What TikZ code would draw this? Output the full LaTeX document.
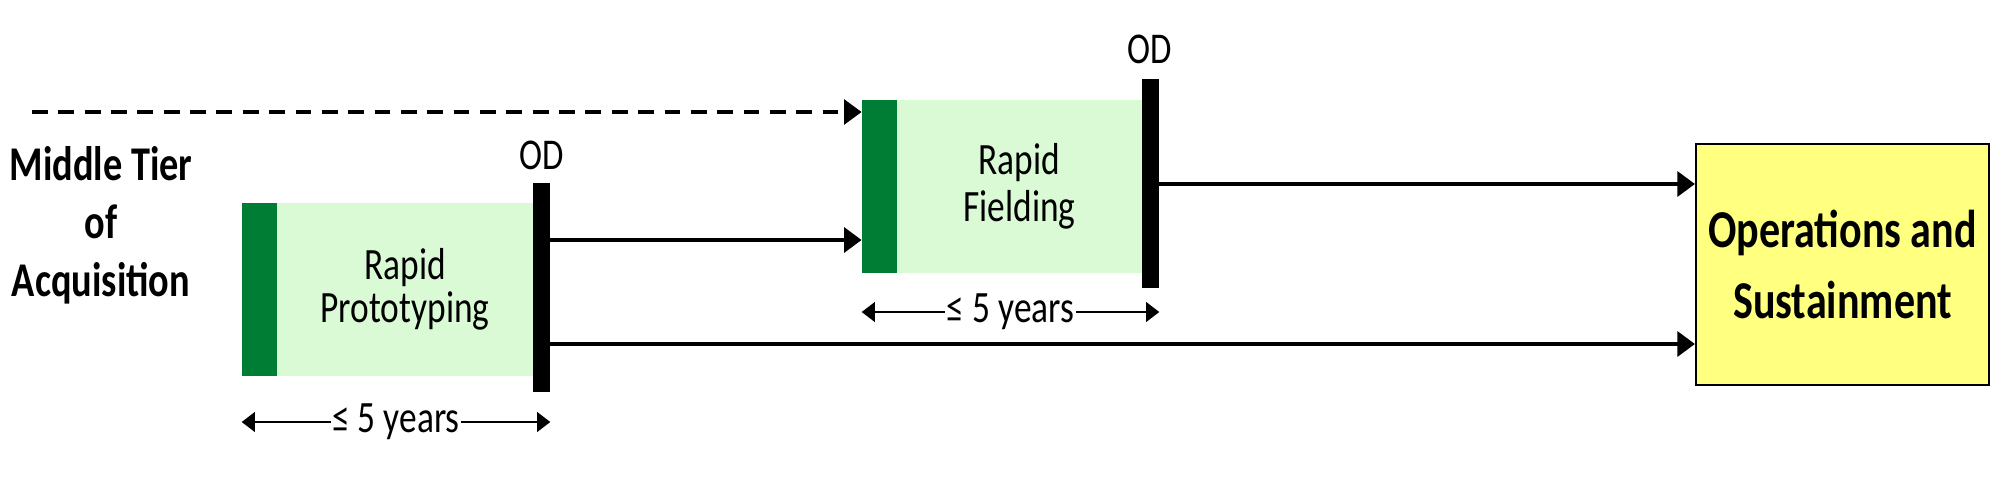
\documentclass[tikz,border=0pt]{standalone}
\usepackage{fontspec}
\setmainfont{Carlito}[FakeStretch=0.79]
\usetikzlibrary{arrows.meta}
\definecolor{gobar}{RGB}{0,125,52}
\definecolor{gofill}{RGB}{218,250,214}
\definecolor{osfill}{RGB}{255,255,128}
\begin{document}
\begin{tikzpicture}[x=0.02cm, y=-0.02cm,
  startbar/.style={fill=gobar, inner sep=0pt, minimum width=0.7cm, minimum height=3.46cm},
  phasebox/.style={fill=gofill, inner sep=0pt, minimum height=3.46cm, align=center},
  odbar/.style={fill=black, inner sep=0pt, minimum width=0.34cm, minimum height=4.18cm},
  odlbl/.style={inner sep=0pt, font=\fontsize{25}{27}\selectfont},
  flow/.style={line width=2.5pt, -{Triangle[length=10pt, width=14pt]}},
  span/.style={line width=1.6pt, {Triangle[length=7.5pt, width=11pt]}-{Triangle[length=7.5pt, width=11pt]}},
  yearslbl/.style={fill=white, inner sep=1pt, font=\fontsize{25.5}{27}\selectfont}]
\useasboundingbox (0,0) rectangle (1999,478);
% tier label
\node[align=center, font=\fontsize{27.6}{33}\selectfont\bfseries] (tier) at (101,225) {Middle Tier\\of\\Acquisition};
% rapid prototyping
\node[startbar] (pgbar) at (259.5,289.5) {};
\node[phasebox, minimum width=5.12cm, font=\fontsize{25.5}{24.5}\selectfont] (pbox) at (405,289.5) {Rapid\\Prototyping};
\node[odbar] (podbar) at (541.5,287.5) {};
\node[odlbl] (podlbl) at (542,155) {OD};
% rapid fielding
\node[startbar] (rgbar) at (879.5,186.5) {};
\node[phasebox, minimum width=4.9cm, font=\fontsize{25.5}{27}\selectfont] (rbox) at (1019.5,186.5) {Rapid\\Fielding};
\node[odbar] (rodbar) at (1150.5,183.5) {};
\node[odlbl] (rodlbl) at (1150,49) {OD};
% operations and sustainment
\node[draw, line width=1.2pt, fill=osfill, minimum width=5.86cm, minimum height=4.82cm, align=center,
  font=\fontsize{30.3}{40}\selectfont\bfseries] (os) at (1842.5,264.5) {Operations and\\Sustainment};
% connectors
\coordinate (dstart) at (32,112);
\draw[flow, line width=2.2pt, dash pattern=on 9pt off 6pt] (dstart) -- (rgbar.west |- dstart);
\draw[flow] (podbar.east |- 0,240) -- (rgbar.west |- 0,240);
\draw[flow] (rodbar.east |- 0,184) -- (os.west |- 0,184);
\draw[flow] (podbar.east |- 0,344) -- (os.west |- 0,344);
% durations
\draw[span] (pgbar.west |- 0,422) -- node[yearslbl] {≤ 5 years} (podbar.east |- 0,422);
\draw[span] (rgbar.west |- 0,312) -- node[yearslbl] {≤ 5 years} (rodbar.east |- 0,312);
\end{tikzpicture}
\end{document}
